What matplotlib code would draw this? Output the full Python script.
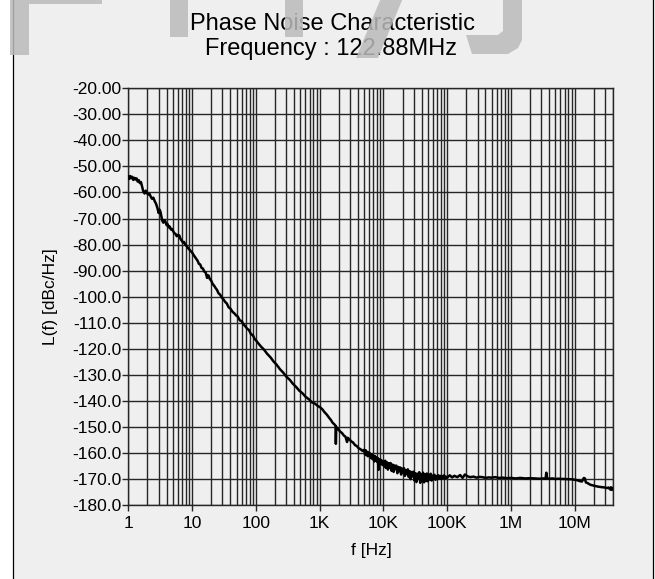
import matplotlib
matplotlib.use("Agg")
import matplotlib.pyplot as plt
from matplotlib.patches import Polygon, Rectangle
from matplotlib.ticker import FixedLocator, NullFormatter

plt.rcParams['font.family'] = ['Liberation Sans', 'DejaVu Sans']

# ---------------- data ----------------
title_line1 = "Phase Noise Characteristic"
title_line2 = "Frequency : 122.88MHz"
x_label = "f [Hz]"
y_label = "L(f) [dBc/Hz]"

x_ticks = [1, 10, 100, 1e3, 1e4, 1e5, 1e6, 1e7]
x_tick_labels = ["1", "10", "100", "1K", "10K", "100K", "1M", "10M"]
y_ticks = [-20, -30, -40, -50, -60, -70, -80, -90, -100, -110, -120,
           -130, -140, -150, -160, -170, -180]
y_tick_labels = ["-20.00", "-30.00", "-40.00", "-50.00", "-60.00", "-70.00",
                 "-80.00", "-90.00", "-100.0", "-110.0", "-120.0", "-130.0",
                 "-140.0", "-150.0", "-160.0", "-170.0", "-180.0"]

freq_1_10 = [1.00, 1.04, 1.08, 1.12, 1.16, 1.20, 1.25, 1.30, 1.35, 1.40, 1.46,
             1.52, 1.58, 1.65, 1.72, 1.80, 1.88, 1.96, 2.05, 2.15, 2.25, 2.35,
             2.47, 2.6, 2.72, 2.85, 3.0, 3.1, 3.2, 3.3, 3.42, 3.55, 3.7, 3.85,
             4.0, 4.15, 4.3, 4.47, 4.65, 4.85, 5.05, 5.25, 5.5, 5.75, 6.0, 6.3,
             6.6, 6.9, 7.2, 7.5, 7.85, 8.2, 8.6, 9.0, 9.5, 10.0]
noise_1_10 = [-53.8, -54.8, -53.7, -54.5, -54.0, -55.2, -54.4, -55.0, -54.6,
              -55.8, -55.3, -56.4, -56.0, -57.8, -59.6, -60.4, -59.3, -60.2,
              -60.8, -60.5, -61.6, -62.4, -62.0, -63.4, -64.3, -65.8, -67.9,
              -66.6, -67.5, -69.2, -70.9, -71.6, -70.6, -71.4, -72.6, -72.2,
              -73.4, -73.1, -74.2, -74.0, -74.8, -75.6, -75.9, -76.8, -76.3,
              -76.5, -77.9, -78.5, -79.2, -79.0, -80.1, -80.5, -81.3, -81.8,
              -82.5, -83.0]

freq_10_100 = [10.5, 11, 11.6, 12.2, 12.8, 13.4, 14.1, 14.8, 15.6, 16.4, 17.2,
               18.0, 19.0, 20, 21, 22.2, 23.4, 24.6, 26, 27.5, 29, 31, 33, 35,
               37.5, 40, 43, 46, 49, 52, 56, 60, 64, 68, 73, 78, 84, 90, 95, 100]
noise_10_100 = [-83.9, -84.6, -85.4, -86.2, -87.4, -87.6, -89.0, -89.2, -90.4,
                -90.8, -92.8, -91.8, -93.2, -93.9, -95.1, -95.8, -96.7, -97.4,
                -98.7, -99.2, -100.2, -101.0, -102.0, -102.6, -104.1, -104.6,
                -105.8, -106.4, -107.2, -107.6, -109.1, -109.4, -110.6, -111.3,
                -112.3, -112.8, -114.4, -114.8, -116.1, -116.7]

freq_100_1k = [110, 120, 135, 150, 170, 190, 210, 240, 270, 300, 340, 380, 430,
               480, 540, 600, 680, 760, 850, 950, 1000]
noise_100_1k = [-118.0, -119.1, -120.4, -121.9, -123.3, -124.9, -126.0, -127.9,
                -129.2, -130.7, -131.9, -133.4, -134.7, -136.1, -137.1, -138.4,
                -139.4, -140.6, -141.1, -142.1, -142.3]

freq_1k_10k = [1100, 1200, 1300, 1400, 1500, 1600, 1700, 1780, 1800, 1830, 1860,
               1950, 2100, 2250, 2400, 2550, 2700, 2750, 2800, 2950, 3150, 3350,
               3600, 3850, 4100, 4400, 4700, 5000, 5150, 5300, 5450, 5600, 5750,
               5900, 6050, 6200, 6400, 6600, 6800, 7000, 7200, 7400, 7600, 7800,
               8000, 8200, 8400, 8550, 8750, 8950, 9200, 9450, 9700, 10000]
noise_1k_10k = [-143.2, -144.4, -145.3, -146.4, -147.3, -148.4, -149.0, -149.6,
                -156.5, -150.0, -150.3, -150.8, -151.8, -152.4, -153.3, -153.8,
                -155.8, -154.2, -154.3, -154.9, -155.6, -156.0, -157.0, -157.4,
                -158.2, -158.6, -159.2, -158.8, -160.6, -159.0, -160.9, -159.6,
                -161.3, -159.9, -161.0, -160.2, -162.0, -160.6, -162.4, -161.0,
                -163.3, -161.2, -162.9, -161.7, -163.4, -162.0, -166.5, -162.6,
                -163.8, -162.5, -164.3, -162.9, -164.6, -163.4]

freq_10k_100k = [10.3e3, 10.7e3, 11.0e3, 11.4e3, 11.8e3, 12.2e3, 12.6e3, 13.0e3,
                 13.5e3, 14.0e3, 14.5e3, 15.0e3, 15.5e3, 16.0e3, 16.6e3, 17.2e3,
                 17.8e3, 18.4e3, 19.0e3, 19.7e3, 20.4e3, 21.1e3, 21.8e3, 22.6e3,
                 23.4e3, 24.2e3, 25.0e3, 25.9e3, 26.8e3, 27.8e3, 28.8e3, 29.8e3,
                 30.8e3, 31.9e3, 33.0e3, 34.2e3, 35.4e3, 36.6e3, 37.9e3, 39.2e3,
                 40.6e3, 42.0e3, 43.5e3, 45.0e3, 46.6e3, 48.2e3, 49.9e3, 51.6e3,
                 53.4e3, 55.3e3, 57.2e3, 59.2e3, 61.3e3, 63.4e3, 65.6e3, 67.9e3,
                 70.3e3, 72.8e3, 75.3e3, 77.9e3, 80.6e3, 83.4e3, 86.3e3, 89.3e3,
                 92.4e3, 95.7e3, 100e3]
noise_10k_100k = [-165.2, -163.0, -165.8, -163.6, -166.4, -164.0, -165.6,
                  -163.9, -166.9, -164.5, -167.3, -164.8, -166.2, -164.9,
                  -167.8, -165.4, -167.0, -165.6, -168.3, -166.0, -167.6,
                  -165.9, -168.8, -166.6, -168.1, -166.3, -169.2, -167.0,
                  -170.1, -167.3, -169.0, -167.2, -170.6, -167.8, -171.2,
                  -168.0, -170.0, -167.4, -171.5, -168.3, -170.4, -167.6,
                  -171.3, -168.2, -170.8, -167.9, -170.9, -168.4, -170.2,
                  -168.0, -170.6, -168.7, -170.0, -168.4, -170.3, -168.9,
                  -170.1, -168.6, -169.9, -168.8, -170.0, -169.0, -169.8,
                  -168.6, -169.9, -169.1, -169.5]

freq_100k_40m = [110e3, 120e3, 130e3, 145e3, 160e3, 175e3, 190e3, 210e3, 230e3,
                 260e3, 290e3, 320e3, 360e3, 400e3, 450e3, 500e3, 570e3, 650e3,
                 750e3, 850e3, 1e6, 1.2e6, 1.4e6, 1.7e6, 2e6, 2.4e6, 2.8e6,
                 3.2e6, 3.5e6, 3.6e6, 3.7e6, 4e6, 4.5e6, 5e6, 5.6e6, 6.3e6, 7e6,
                 8e6, 9e6, 10e6, 11e6, 12e6, 13e6, 14e6, 14.5e6, 15e6, 16e6,
                 17e6, 18e6, 19e6, 20e6, 22e6, 24e6, 26e6, 28e6, 30e6, 32e6,
                 34e6, 36e6, 37e6, 38e6, 39e6, 40e6]
noise_100k_40m = [-168.6, -169.4, -168.8, -169.3, -168.5, -169.6, -168.3,
                  -169.0, -169.3, -169.1, -169.5, -169.2, -169.3, -169.6,
                  -169.4, -169.5, -169.3, -169.6, -169.5, -169.7, -169.6,
                  -169.8, -169.6, -169.8, -169.7, -169.8, -169.9, -169.8,
                  -169.9, -167.6, -169.8, -169.9, -169.8, -170.0, -169.9,
                  -170.0, -170.0, -170.1, -170.1, -170.3, -170.5, -170.8,
                  -171.0, -169.6, -169.8, -171.3, -171.6, -172.0, -172.3,
                  -172.4, -172.6, -172.8, -173.0, -173.1, -173.2, -173.3,
                  -173.5, -173.3, -174.0, -173.2, -174.2, -173.4, -173.8]

freq = (freq_1_10 + freq_10_100 + freq_100_1k + freq_1k_10k
        + freq_10k_100k + freq_100k_40m)
noise = (noise_1_10 + noise_10_100 + noise_100_1k + noise_1k_10k
         + noise_10k_100k + noise_100k_40m)

# ---------------- figure ----------------
W, H = 655, 579
fig = plt.figure(figsize=(W / 100, H / 100), dpi=100, facecolor='white')

def px(x, y):
    return (x / W, 1 - y / H)

# frame (gray panel with black border)
frame = Rectangle(px(12.5, 600), (652.5 - 12.5) / W, 620 / H,
                  transform=fig.transFigure, facecolor='#efefef',
                  edgecolor='black', linewidth=0.9, zorder=-5)
fig.patches.append(frame)

left, right, top, bottom = 128.3, 613.0, 88.3, 505.0
ax = fig.add_axes([left / W, 1 - bottom / H, (right - left) / W, (bottom - top) / H])
ax.set_facecolor('none')

ax.plot(freq, noise, color='black', linewidth=1.8, zorder=3)

ax.set_xscale('log')
ax.set_xlim(1, 40e6)
ax.set_ylim(-180, -20)

ax.xaxis.set_major_locator(FixedLocator(x_ticks))
ax.set_xticklabels(x_tick_labels)
minor = [m * 10 ** d for d in range(0, 8) for m in range(2, 10) if m * 10 ** d <= 40e6]
ax.xaxis.set_minor_locator(FixedLocator(minor))
ax.xaxis.set_minor_formatter(NullFormatter())
ax.set_yticks(y_ticks)
ax.set_yticklabels(y_tick_labels)

gc = '#262626'
ax.grid(True, which='major', axis='both', color=gc, linewidth=1.0)
ax.grid(True, which='minor', axis='x', color=gc, linewidth=1.0)
ax.set_axisbelow(True)

ax.tick_params(axis='x', which='major', direction='out', length=4, width=1.0,
               pad=4, labelsize=12.5, color=gc)
ax.tick_params(axis='x', which='minor', length=0)
ax.tick_params(axis='y', which='major', direction='out', length=4.5, width=1.0,
               pad=0.5, labelsize=12.5, color=gc)
for s in ax.spines.values():
    s.set_color(gc)
    s.set_linewidth(1.0)

# titles and labels
fig.text(*px(332, 29.5), title_line1, ha='center', va='baseline', fontsize=17, zorder=5)
fig.text(*px(331, 55.5), title_line2, ha='center', va='baseline', fontsize=17, zorder=5)
fig.text(*px(371, 555), x_label, ha='center', va='baseline', fontsize=12.5, zorder=5)
fig.text(*px(50, 297), y_label, ha='center', va='center', rotation=90,
         fontsize=12.5, zorder=5)

# watermark fragments at the top
wm_color = '#bbbbbb'
shapes = [
    [(10, -2), (102, -2), (102, 4), (29, 4), (29, 55), (10, 55)],
    [(170, -2), (188, -2), (188, 37), (170, 37)],
    [(285, -2), (303, -2), (303, 37), (285, 37)],
    [(381, -2), (403, -2), (378, 58), (356, 58)],
    [(503, -2), (522, -2), (522, 40), (518, 48), (508, 54), (472, 54),
     (466, 35), (498, 35), (503, 31)],
]
for sh in shapes:
    poly = Polygon([px(x, y) for x, y in sh], closed=True, transform=fig.transFigure,
                   facecolor=wm_color, edgecolor='none', alpha=0.85, zorder=10)
    fig.patches.append(poly)

fig.savefig('out.png', dpi=100, facecolor='white')
